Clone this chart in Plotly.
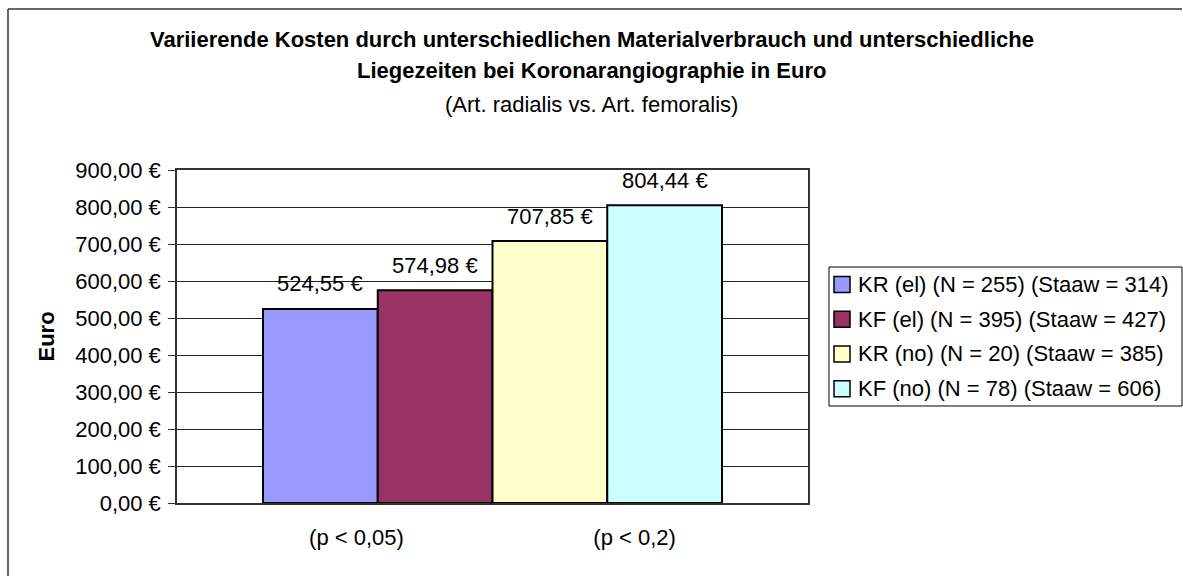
import plotly.graph_objects as go

# --- data -----------------------------------------------------------------
series_names = [
    "KR (el) (N = 255) (Staaw = 314)",
    "KF (el) (N = 395) (Staaw = 427)",
    "KR (no) (N = 20) (Staaw = 385)",
    "KF (no) (N = 78) (Staaw = 606)",
]
costs_eur = [524.55, 574.98, 707.85, 804.44]
bar_colors = ["#9999FF", "#993366", "#FFFFCC", "#CCFFFF"]
group_labels = ["(p < 0,05)", "(p < 0,2)"]
y_tick_values = [0, 100, 200, 300, 400, 500, 600, 700, 800, 900]

title_lines = [
    "Variierende Kosten durch unterschiedlichen Materialverbrauch und unterschiedliche",
    "Liegezeiten bei Koronarangiographie in Euro",
]
subtitle = "(Art. radialis vs. Art. femoralis)"
y_title = "Euro"

# --- geometry (pixels) ----------------------------------------------------
W, H = 1183, 576
PL, PR, PT, PB = 177, 808, 170, 503  # plot area edges
BARGAP = 0.2726
FONT = "Liberation Sans, Arial, sans-serif"
FS = 22


def xp(x):
    return (x - PL) / (PR - PL)


def yp(y):
    return (PB - y) / (PB - PT)


def euro(v):
    return f"{v:.2f}".replace(".", ",") + " €"


# single category holding both comparison labels
NBSP = "\u00a0"
category = (NBSP * 31).join(group_labels)

fig = go.Figure()
for name, val, col in zip(series_names, costs_eur, bar_colors):
    fig.add_trace(go.Bar(
        x=[category], y=[val], name=name,
        marker=dict(color=col, line=dict(color="black", width=2)),
        showlegend=False, hoverinfo="skip",
    ))

n = len(costs_eur)
bar_w = (1 - BARGAP) / n
annotations = []
# value labels above each bar
for i, val in enumerate(costs_eur):
    annotations.append(dict(
        x=(i - (n - 1) / 2) * bar_w, y=val, xref="x", yref="y",
        text=euro(val), showarrow=False, xanchor="center", yanchor="middle",
        yshift=25, font=dict(family=FONT, size=FS, color="black"),
    ))

# title block
annotations.append(dict(x=xp(W / 2), y=yp(39.5), xref="paper", yref="paper",
                        text=f"<b>{title_lines[0]}</b>", showarrow=False,
                        xanchor="center", yanchor="middle",
                        font=dict(family=FONT, size=FS, color="black")))
annotations.append(dict(x=xp(W / 2), y=yp(70), xref="paper", yref="paper",
                        text=f"<b>{title_lines[1]}</b>", showarrow=False,
                        xanchor="center", yanchor="middle",
                        font=dict(family=FONT, size=FS, color="black")))
annotations.append(dict(x=xp(W / 2), y=yp(104), xref="paper", yref="paper",
                        text=subtitle, showarrow=False,
                        xanchor="center", yanchor="middle",
                        font=dict(family=FONT, size=FS, color="black")))

# y-axis title
annotations.append(dict(x=xp(46), y=0.5, xref="paper", yref="paper",
                        text=f"<b>{y_title}</b>", textangle=-90, showarrow=False,
                        xanchor="center", yanchor="middle",
                        font=dict(family=FONT, size=FS, color="black")))

shapes = []
# outer chart frame: only its left and top edges fall inside the canvas
shapes.append(dict(type="line", xref="paper", yref="paper",
                   x0=xp(8), x1=xp(8), y0=yp(9), y1=yp(H),
                   line=dict(color="#333333", width=1.5)))
shapes.append(dict(type="line", xref="paper", yref="paper",
                   x0=xp(8), x1=xp(W - 1), y0=yp(9), y1=yp(9),
                   line=dict(color="#333333", width=1.5)))

# legend box with swatches
LEG_X0, LEG_X1, LEG_Y0, LEG_Y1 = 829, 1182, 267, 406
shapes.append(dict(type="rect", xref="paper", yref="paper",
                   x0=xp(LEG_X0), x1=xp(LEG_X1), y0=yp(LEG_Y0), y1=yp(LEG_Y1),
                   line=dict(color="black", width=1), fillcolor="white"))
row_h = (LEG_Y1 - LEG_Y0) / n
for i, (name, col) in enumerate(zip(series_names, bar_colors)):
    yc = LEG_Y0 + row_h * (i + 0.5)
    shapes.append(dict(type="rect", xref="paper", yref="paper",
                       x0=xp(834), x1=xp(850), y0=yp(yc - 8), y1=yp(yc + 8),
                       line=dict(color="black", width=1.5), fillcolor=col))
    annotations.append(dict(x=xp(856), y=yp(yc), xref="paper", yref="paper",
                            text=name, showarrow=False, xanchor="left",
                            yanchor="middle",
                            font=dict(family=FONT, size=FS, color="black")))

fig.update_layout(
    width=W, height=H,
    margin=dict(l=PL, r=W - PR, t=PT, b=H - PB, pad=0),
    paper_bgcolor="white", plot_bgcolor="white",
    barmode="group", bargap=BARGAP, bargroupgap=0,
    font=dict(family=FONT, size=FS, color="black"),
    showlegend=False,
    annotations=annotations, shapes=shapes,
)
fig.update_xaxes(
    type="category", range=[-0.5, 0.5],
    showline=True, linecolor="#333333", linewidth=1.5, mirror=True,
    ticks="", showgrid=False, ticklabelstandoff=14,
    tickfont=dict(family=FONT, size=FS, color="black"),
)
fig.update_yaxes(
    range=[0, 900], tickmode="array", tickvals=y_tick_values,
    ticktext=[euro(v) for v in y_tick_values],
    showline=True, linecolor="#333333", linewidth=1.5, mirror=True,
    ticks="outside", ticklen=7, tickcolor="#333333", tickwidth=1,
    showgrid=True, gridcolor="#222222", gridwidth=1, zeroline=False,
    ticklabelstandoff=3,
    tickfont=dict(family=FONT, size=FS, color="black"),
)

fig.write_html("out.html")
